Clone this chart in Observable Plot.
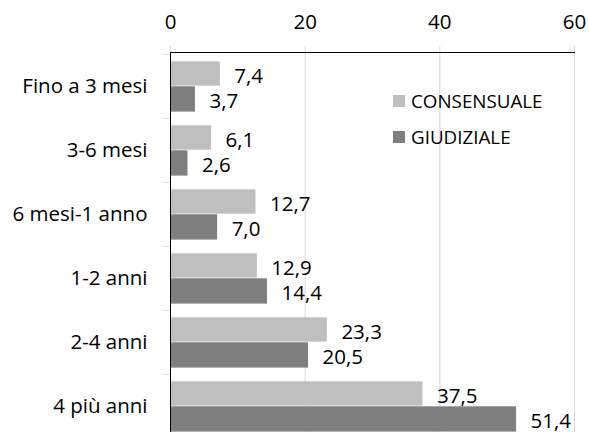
<!DOCTYPE html>
<html><head><meta charset="utf-8">
<script src="https://cdn.jsdelivr.net/npm/d3@7"></script>
<script src="https://cdn.jsdelivr.net/npm/@observablehq/plot@0.6"></script>
<style>
html,body{margin:0;padding:0;background:#fff;overflow:hidden;}
#wrap{position:relative;width:589px;height:432px;overflow:hidden;}
#wrap svg{display:block;}
.lg{position:absolute;display:flex;align-items:center;height:24px;font-family:"Open Sans",sans-serif;font-size:18.8px;color:#000;white-space:nowrap;}
.lg span.sw{display:inline-block;width:12px;height:12px;margin-right:6px;}
</style></head><body><div id="wrap"></div>
<script>
const categories = ["Fino a 3 mesi","3-6 mesi","6 mesi-1 anno","1-2 anni","2-4 anni","4 più anni"];
const series = ["CONSENSUALE","GIUDIZIALE"];
const consensuale = [7.4,6.1,12.7,12.9,23.3,37.5];
const giudiziale = [3.7,2.6,7.0,14.4,20.5,51.4];
const colors = ["#bfbfbf","#7f7f7f"];
const xTicks = [0,20,40,60];

const rows = categories.flatMap((c,i)=>[
  {cat:c, series:series[0], value:consensuale[i]},
  {cat:c, series:series[1], value:giudiziale[i]}
]);
const fmt = v => v.toFixed(1).replace(".", ",");

const W = 589, H = 440, mTop = 52, mBottom = 0, mLeft = 170, mRight = 15;
const step = (H - mTop - mBottom) / categories.length;
const split = 32.3;       // boundary between the two bars inside a band
const padTop = 7.3, padBottom = 6.4;

const light = rows.filter(d => d.series === series[0]);
const dark = rows.filter(d => d.series === series[1]);

const chart = Plot.plot({
  width: W, height: H,
  marginTop: mTop, marginBottom: mBottom, marginLeft: mLeft, marginRight: mRight,
  style: {fontFamily: "'Open Sans', sans-serif", fontSize: "20.5px", color: "#000", background: "#fff"},
  x: {domain: [0, 60], axis: null, label: null},
  y: {domain: categories, padding: 0, axis: null, label: null},
  color: {domain: series, range: colors},
  marks: [
    Plot.gridX(xTicks, {stroke: "#d9d9d9", strokeOpacity: 1}),
    Plot.axisX(xTicks, {anchor: "top", label: null, tickSize: 7, tickPadding: 17, stroke: "#d9d9d9", strokeOpacity: 1, fontSize: 20.5, tickFormat: d => d}),
    Plot.barX(light, {x: "value", y: "cat", fill: d => d.series, insetTop: padTop, insetBottom: step - split}),
    Plot.barX(dark, {x: "value", y: "cat", fill: d => d.series, insetTop: split, insetBottom: padBottom}),
    Plot.text(light, {x: "value", y: "cat", text: d => fmt(d.value), textAnchor: "start", dx: 14, dy: -10.5, fontSize: 20.5, fill: "#000"}),
    Plot.text(dark, {x: "value", y: "cat", text: d => fmt(d.value), textAnchor: "start", dx: 14, dy: 14.7, fontSize: 20.5, fill: "#000"}),
    // category separator ticks at the top of each band
    Plot.barX(categories, {y: d => d, x1: -1.04, x2: 0, insetBottom: step - 1, fill: "#999"}),
    Plot.axisY({anchor: "left", label: null, tickSize: 0, tickPadding: 23, fontSize: 20.5}),
    Plot.frame({anchor: "top", stroke: "#000"}),
    Plot.frame({anchor: "left", stroke: "#000"})
  ]
});
const wrap = document.getElementById("wrap");
wrap.appendChild(chart);

const legendTops = [101, 137];
series.forEach((s, i) => {
  const row = document.createElement("div");
  row.className = "lg";
  row.style.left = "393px";
  row.style.top = (legendTops[i] - 12) + "px";
  const sw = document.createElement("span");
  sw.className = "sw";
  sw.style.background = colors[i];
  row.appendChild(sw);
  row.appendChild(document.createTextNode(s));
  wrap.appendChild(row);
});
</script></body></html>
